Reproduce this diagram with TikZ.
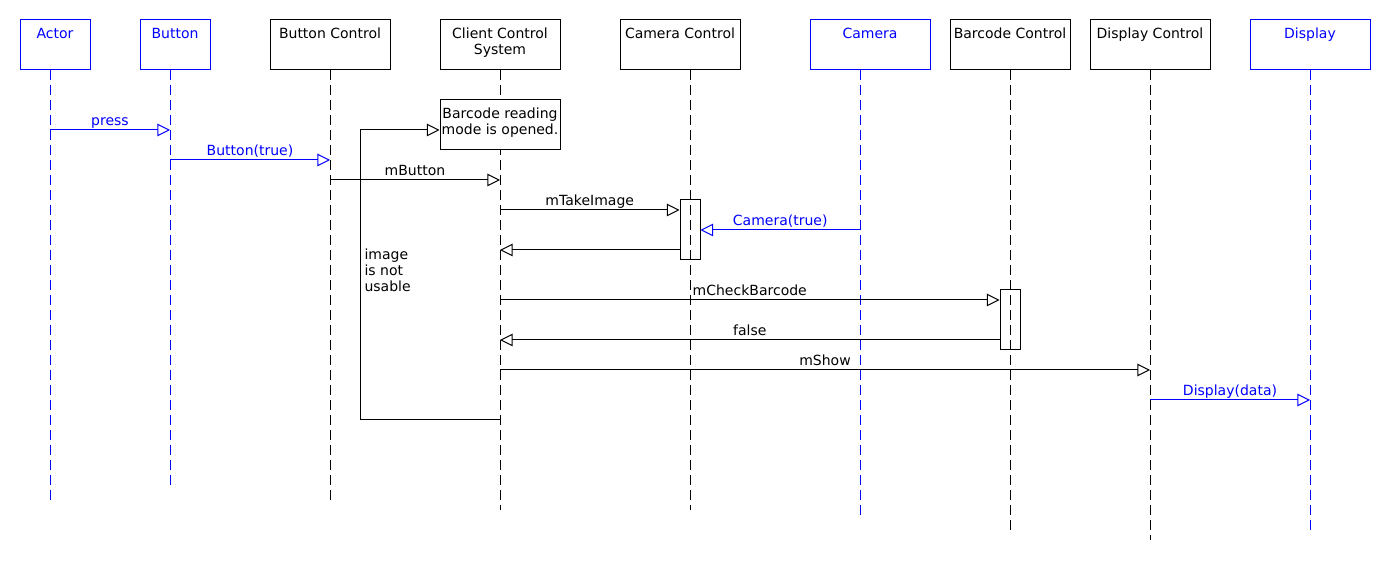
\documentclass[tikz,border=0pt]{standalone}
\usepackage{fontspec}
\setmainfont{DejaVu Sans}
\usepackage{tikz}
\usetikzlibrary{arrows.meta}
\tikzstyle{sequence} = [x = 0.75pt, y = -0.75pt, font = \fontsize{10.5}{12}\selectfont, line width = 0.75pt]
\definecolor{actorBlue}{RGB}{0,0,255}
\tikzstyle{objectBox} = [draw, minimum height = 37.5pt, inner sep = 0pt]
\tikzstyle{wideBox} = [objectBox, minimum width = 90pt]
\tikzstyle{narrowBox} = [objectBox, minimum width = 52.5pt]
\tikzstyle{boxText} = [anchor = north, align = center, inner sep = 6pt]
\tikzstyle{lifeLine} = [dash pattern = on 7.5pt off 3.75pt]
\tikzstyle{activation} = [draw, minimum width = 15pt, minimum height = 45pt, inner sep = 0pt]
\tikzstyle{noteBox} = [draw, fill = white, minimum width = 90pt, minimum height = 37.5pt, inner sep = 0pt]
\tikzstyle{messageArrow} = [-{Triangle[open, length = 9.5pt, width = 9.5pt]}]
\tikzstyle{messageText} = [midway, anchor = base, yshift = 3pt, inner sep = 0pt]
\newcommand{\objectLifeline}[7]{
  \node [#2, draw = #3, label = {[boxText, text = #3]north:#7}] (#1) at (#4, 45) {};
  \coordinate (#1Top) at (#5, 70);
  \coordinate (#1End) at (#5, #6);
  \draw [lifeLine, #3] (#1Top) -- (#1End);
}
\newcommand{\callMessage}[5]{
  \draw [messageArrow, #1] (#2 |- 0, #4) -- node [messageText] {#5} (#3 |- 0, #4);
}

\begin{document}
\begin{tikzpicture}[sequence]
          \useasboundingbox (0, 0) rectangle (1390, 580);
          \objectLifeline{actor}{narrowBox}{actorBlue}{55}{50}{500}{Actor}
          \objectLifeline{button}{narrowBox}{actorBlue}{175}{170}{490}{Button}
          \objectLifeline{buttonControl}{wideBox}{black}{330}{330}{500}{Button Control}
          \objectLifeline{client}{wideBox}{black}{500}{500}{510}{Client Control\\System}
          \objectLifeline{cameraControl}{wideBox}{black}{680}{690}{510}{Camera Control}
          \objectLifeline{camera}{wideBox}{actorBlue}{870}{860}{520}{Camera}
          \objectLifeline{barcodeControl}{wideBox}{black}{1010}{1010}{530}{Barcode Control}
          \objectLifeline{displayControl}{wideBox}{black}{1150}{1150}{540}{Display Control}
          \objectLifeline{display}{wideBox}{actorBlue}{1310}{1310}{530}{Display}

          \node [noteBox, label = {[boxText]north:Barcode reading\\mode is opened.}] (note) at (500, 125) {};
          \node [activation] (cameraControlAct) at (690, 230) {};
          \node [activation] (barcodeControlAct) at (1010, 320) {};

          \coordinate (loopStart) at (clientTop |- 0, 420);
          \coordinate (loopCorner) at (360, 130);
          \draw [messageArrow] (loopStart) -| (loopCorner) -- (note.west |- loopCorner);
          \node [anchor = north west, align = left, inner sep = 0pt] (loopText) at (364, 248) {image\\is not\\usable};

          \callMessage{actorBlue}{actorTop}{buttonTop}{130}{press}
          \callMessage{actorBlue}{buttonTop}{buttonControlTop}{160}{Button(true)}
          \callMessage{black}{buttonControlTop}{clientTop}{180}{mButton}
          \callMessage{black}{clientTop}{cameraControlAct.west}{210}{mTakeImage}
          \callMessage{actorBlue}{cameraTop}{cameraControlAct.east}{230}{Camera(true)}
          \callMessage{black}{cameraControlAct.west}{clientTop}{250}{}
          \callMessage{black}{clientTop}{barcodeControlAct.west}{300}{mCheckBarcode}
          \callMessage{black}{barcodeControlAct.west}{clientTop}{340}{false}
          \callMessage{black}{clientTop}{displayControlTop}{370}{mShow}
          \callMessage{actorBlue}{displayControlTop}{displayTop}{400}{Display(data)}
        \end{tikzpicture}
\end{document}
